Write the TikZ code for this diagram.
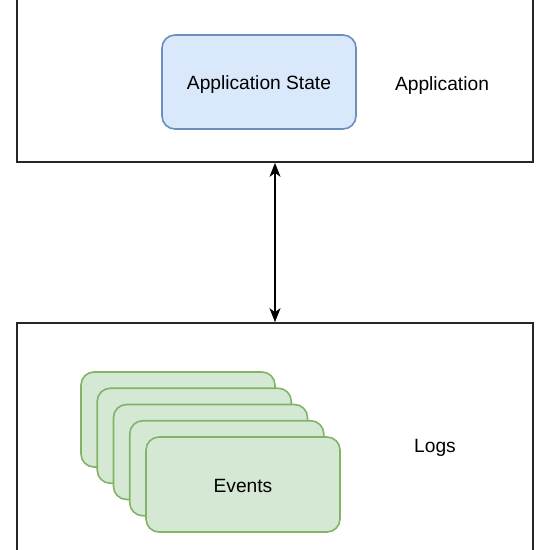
\documentclass[tikz,border=0pt]{standalone}
\usepackage{fontspec}
\setmainfont{Liberation Sans}
\usetikzlibrary{arrows.meta}
\definecolor{bluefill}{HTML}{DAE8FC}
\definecolor{bluestroke}{HTML}{6C8EBF}
\definecolor{greenfill}{HTML}{D5E8D4}
\definecolor{greenstroke}{HTML}{82B366}
\newcommand{\lowered}[1]{\raisebox{-7.5pt}[0pt][0pt]{#1}}
\begin{document}
\begin{tikzpicture}[x=1pt,y=-1pt,
  container/.style={draw=black!85,line width=1.7pt,minimum width=516pt,inner sep=0pt},
  statebox/.style={draw=bluestroke,fill=bluefill,line width=1.6pt,rounded corners=13pt,minimum width=194pt,minimum height=94pt,inner sep=0pt},
  eventbox/.style={draw=greenstroke,fill=greenfill,line width=1.6pt,rounded corners=13pt,minimum width=194pt,minimum height=95pt,inner sep=0pt},
  lbl/.style={font=\fontsize{19.2}{23}\selectfont,inner sep=0pt},
  every node/.append style={font=\fontsize{19.2}{23}\selectfont}]
\useasboundingbox (0,0) rectangle (550,550);
\clip (0,0) rectangle (550,550);
\node[container,minimum height=182pt] (appc) at (275,71) {};
\node[container,minimum height=247pt] (logc) at (275,446.5) {};
\node[statebox] (state) at (259,82) {\lowered{Application State}};
\node[lbl] (applbl) at (442,86) {Application};
\node[eventbox] (e1) at (178,419.5) {};
\node[eventbox] (e2) at (194.25,435.75) {};
\node[eventbox] (e3) at (210.5,452) {};
\node[eventbox] (e4) at (226.75,468.25) {};
\node[eventbox] (e5) at (243,484.5) {\lowered{Events}};
\node[lbl] (logslbl) at (435,447.5) {Logs};
\draw[line width=1.4pt,{Stealth[length=14pt,width=11pt,inset=4pt]}-{Stealth[length=14pt,width=11pt,inset=4pt]}] (appc.south) -- (logc.north);
\end{tikzpicture}
\end{document}
